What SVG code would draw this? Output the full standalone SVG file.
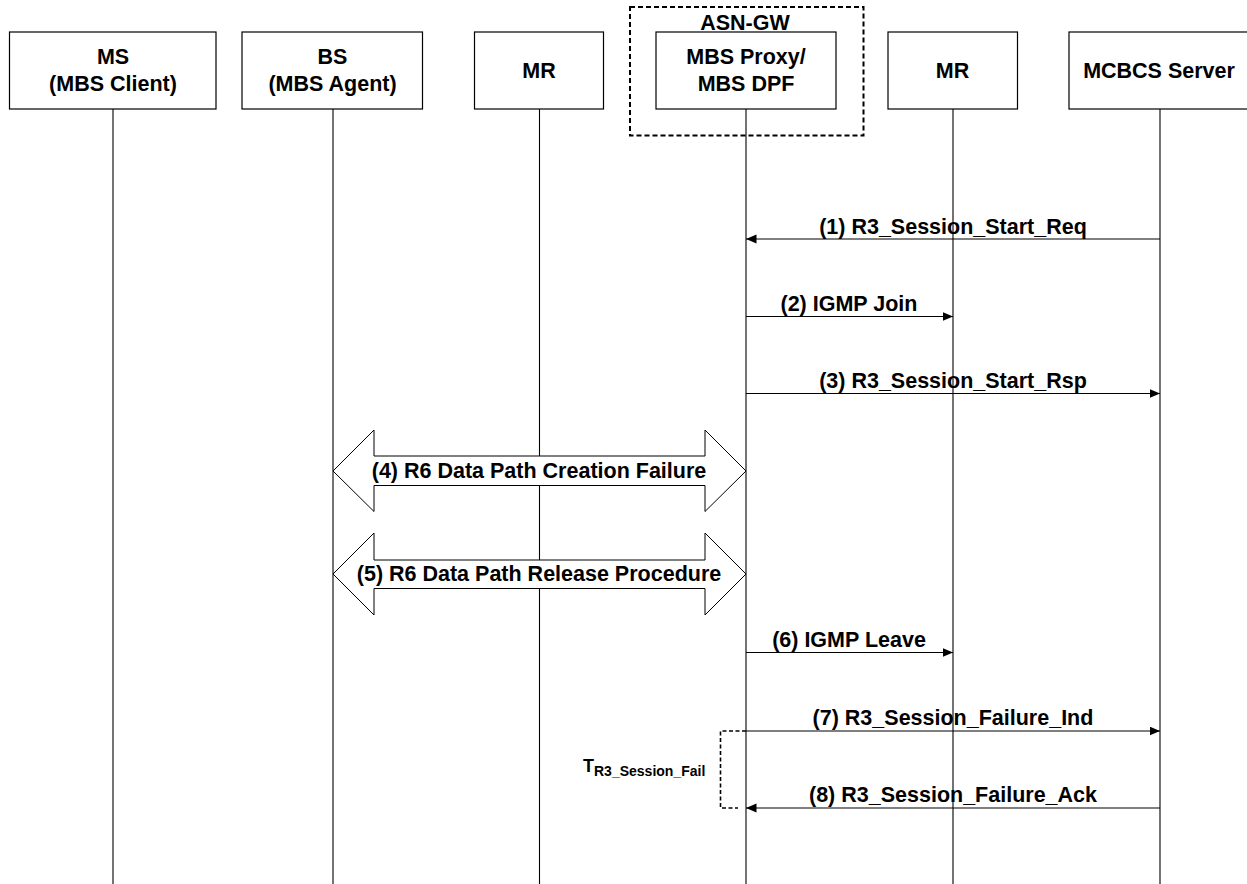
<svg xmlns="http://www.w3.org/2000/svg" width="1247" height="884" viewBox="0 0 1247 884">
<style>
  .box{fill:#fff;stroke:#000;stroke-width:1.2}
  .lbl{font-family:"Liberation Sans",Arial,sans-serif;font-weight:bold;font-size:21.5px;fill:#000;text-anchor:middle}
  .life{stroke:#000;stroke-width:1.1;fill:none}
  .msg{stroke:#000;stroke-width:1.1;fill:none;marker-end:url(#ah)}
  .blk{fill:#fff;stroke:#000;stroke-width:1}
  .dash{fill:none;stroke:#000;stroke-width:2;stroke-dasharray:5,3}
  .tdash{fill:none;stroke:#000;stroke-width:1.6;stroke-dasharray:4,2.5}
  .tlbl{font-family:"Liberation Sans",Arial,sans-serif;font-weight:bold;font-size:18px;fill:#000}
</style>
<defs>
  <marker id="ah" markerUnits="userSpaceOnUse" markerWidth="11" markerHeight="10" refX="10.5" refY="4.5" orient="auto">
    <path d="M0,0 L10.5,4.5 L0,9 z" fill="#000"/>
  </marker>
</defs>
<rect width="1247" height="884" fill="#fff"/>

<g id="asn-gw">
  <rect class="dash" x="630" y="7" width="233.5" height="128.5"/>
  <text class="lbl" x="745" y="29.5">ASN-GW</text>
</g>

<g id="ms">
  <rect class="box" x="9.5" y="32" width="206.5" height="77"/>
  <text class="lbl" x="113" y="63.5">MS</text>
  <text class="lbl" x="113" y="91">(MBS Client)</text>
  <line class="life" x1="113" y1="109" x2="113" y2="884"/>
</g>
<g id="bs">
  <rect class="box" x="242" y="32" width="180.5" height="77"/>
  <text class="lbl" x="332.5" y="63.5">BS</text>
  <text class="lbl" x="332.5" y="91">(MBS Agent)</text>
  <line class="life" x1="333" y1="109" x2="333" y2="884"/>
</g>
<g id="mr1">
  <rect class="box" x="474.5" y="32" width="129" height="77"/>
  <text class="lbl" x="539" y="77.5">MR</text>
  <line class="life" x1="539.5" y1="109" x2="539.5" y2="884"/>
</g>
<g id="mbs-proxy">
  <rect class="box" x="656" y="32" width="180" height="77"/>
  <text class="lbl" x="746" y="64">MBS Proxy/</text>
  <text class="lbl" x="746" y="91">MBS DPF</text>
  <line class="life" x1="746" y1="109" x2="746" y2="884"/>
</g>
<g id="mr2">
  <rect class="box" x="888" y="32" width="129.5" height="77"/>
  <text class="lbl" x="952.5" y="77.5">MR</text>
  <line class="life" x1="953" y1="109" x2="953" y2="884"/>
</g>
<g id="mcbcs">
  <rect class="box" x="1069" y="32" width="185" height="77"/>
  <text class="lbl" x="1159" y="77.5">MCBCS Server</text>
  <line class="life" x1="1160" y1="109" x2="1160" y2="884"/>
</g>

<g id="connectors">
  <line class="msg" x1="1160" y1="239" x2="746" y2="239"/>
  <text class="lbl" x="953" y="233.5">(1) R3_Session_Start_Req</text>

  <line class="msg" x1="746" y1="316.5" x2="953" y2="316.5"/>
  <text class="lbl" x="849" y="311">(2) IGMP Join</text>

  <line class="msg" x1="746" y1="393.5" x2="1160" y2="393.5"/>
  <text class="lbl" x="953" y="387.5">(3) R3_Session_Start_Rsp</text>

  <polygon class="blk" points="333,471 374,430 374,456 705,456 705,430 746,471 705,511.5 705,485.5 374,485.5 374,511.5"/>
  <text class="lbl" x="539" y="478">(4) R6 Data Path Creation Failure</text>

  <polygon class="blk" points="333,574 374,533 374,560 705,560 705,533 746,574 705,615 705,588.5 374,588.5 374,615"/>
  <text class="lbl" x="539" y="581">(5) R6 Data Path Release Procedure</text>

  <line class="msg" x1="746" y1="652.5" x2="953" y2="652.5"/>
  <text class="lbl" x="849" y="646.5">(6) IGMP Leave</text>

  <line class="msg" x1="746" y1="731" x2="1160" y2="731"/>
  <text class="lbl" x="953" y="725">(7) R3_Session_Failure_Ind</text>

  <line class="msg" x1="1160" y1="808" x2="746" y2="808"/>
  <text class="lbl" x="953" y="802">(8) R3_Session_Failure_Ack</text>

  <polyline class="tdash" points="746,731 720.5,731 720.5,808 738,808"/>
  <text class="tlbl" x="583" y="772">T<tspan y="775.5" style="font-size:14px">R3_Session_Fail</tspan></text>
</g>
</svg>
